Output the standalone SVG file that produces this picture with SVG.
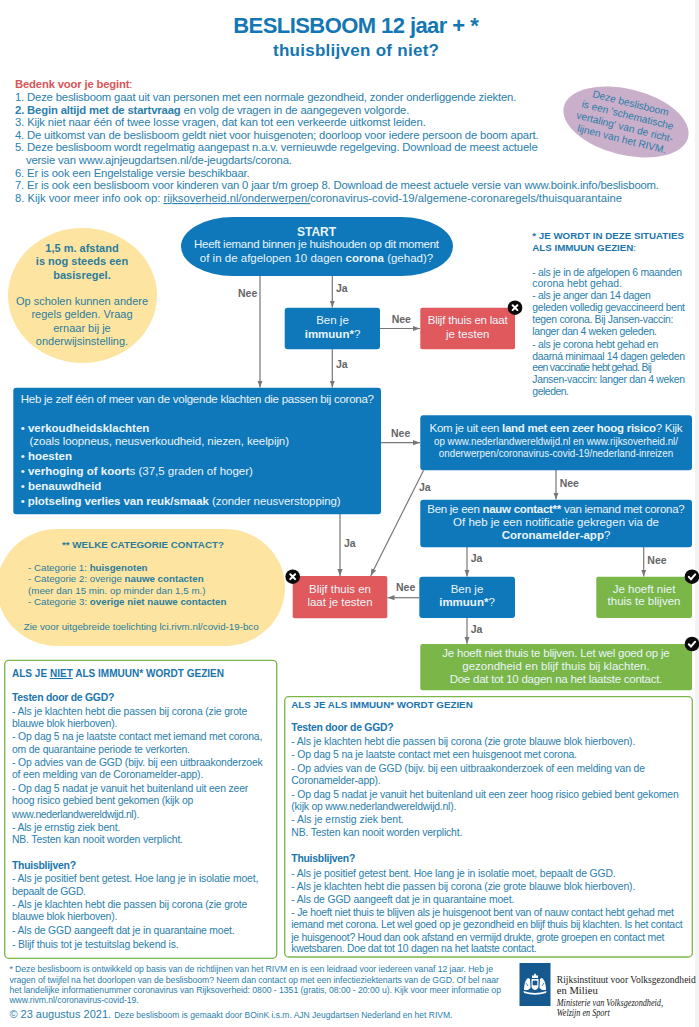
<svg xmlns="http://www.w3.org/2000/svg" width="699" height="1027" viewBox="0 0 699 1027">
<style>
text{font-family:"Liberation Sans",Arial,sans-serif;}
.b{font-weight:bold}
.t{fill:#2a80ad;font-size:11.3px}
.w{fill:#eaf5fb;font-size:11.5px}
.w2{fill:#eaf5fb;font-size:10.2px}
.m{text-anchor:middle}
.lb{fill:#666;font-size:10.5px;font-weight:bold}
.c{fill:none;stroke:#777;stroke-width:1.2;marker-end:url(#a)}
.blue{fill:#0f78ba}
.green{fill:#7ab648}
.red{fill:#e0595c}
.yel{fill:#fde5a1}
.panel{fill:#fff;stroke:#7ab648;stroke-width:1.3}
.s{font-size:10.4px;fill:#2a80ad}
.sh{font-size:9.8px;fill:#1a75ad}
.y{fill:#2b7c9c;font-size:9.9px}
.y2{fill:#2b7c9c;font-size:11px}
.f{font-size:8.7px;fill:#2a80ad}
.r{font-family:"Liberation Serif",serif;fill:#222;font-size:10.6px}
.h{fill:#1a75ad}
.badge{fill:#0a0a0a}
.xm{stroke:#fff;stroke-width:2;fill:none;stroke-linecap:round}
</style>
<defs>
<marker id="a" markerUnits="userSpaceOnUse" markerWidth="8" markerHeight="8" refX="7" refY="4" orient="auto"><path d="M0,1.4 L7,4 L0,6.6 Z" fill="#777"/></marker>
</defs>
<rect width="699" height="1027" fill="#fff"/>
<rect x="695" y="0" width="4" height="1027" fill="#f3f3f3"/>
<g id="titel">
<text x="356" y="33" class="m b" fill="#1476b3" font-size="22px" textLength="245.4">BESLISBOOM 12 jaar + *</text>
<text x="356" y="55.7" class="m b" fill="#1476b3" font-size="17px" textLength="166">thuisblijven of niet?</text>
</g>
<g id="intro">
<text x="15" y="88" font-size="11.3px" fill="#d9555a" textLength="117.5"><tspan class="b">Bedenk voor je begint</tspan>:</text>
<text x="15" y="101" class="t" textLength="501.3">1. Deze beslisboom gaat uit van personen met een normale gezondheid, zonder onderliggende ziekten.</text>
<text x="15" y="113.5" class="t" textLength="394.3"><tspan class="b">2. Begin altijd met de startvraag</tspan> en volg de vragen in de aangegeven volgorde.</text>
<text x="15" y="126" class="t" textLength="410.8">3. Kijk niet naar één of twee losse vragen, dat kan tot een verkeerde uitkomst leiden.</text>
<text x="15" y="138.7" class="t" textLength="523.6">4. De uitkomst van de beslisboom geldt niet voor huisgenoten; doorloop voor iedere persoon de boom apart.</text>
<text x="15" y="151.2" class="t" textLength="522.7">5. Deze beslisboom wordt regelmatig aangepast n.a.v. vernieuwde regelgeving. Download de meest actuele</text>
<text x="25.9" y="164" class="t" textLength="266.1">versie van www.ajnjeugdartsen.nl/de-jeugdarts/corona.</text>
<text x="15" y="176.7" class="t" textLength="234.7">6. Er is ook een Engelstalige versie beschikbaar.</text>
<text x="15" y="189.2" class="t" textLength="644">7. Er is ook een beslisboom voor kinderen van 0 jaar t/m groep 8. Download de meest actuele versie van www.boink.info/beslisboom.</text>
<text x="15" y="202" class="t" textLength="607">8. Kijk voor meer info ook op: <tspan text-decoration="underline">rijksoverheid.nl/onderwerpen/</tspan>coronavirus-covid-19/algemene-coronaregels/thuisquarantaine</text>
</g>
<g id="noot-ellips">
<ellipse cx="626" cy="122" rx="64" ry="33" fill="#c9afc9" transform="rotate(14 626 122)"/>
<g transform="rotate(14 626 122)" fill="#2a7dab" font-size="10.2px" text-anchor="middle">
<text x="626" y="106">Deze beslisboom</text>
<text x="626" y="118.3">is een 'schematische</text>
<text x="626" y="130.6">vertaling' van de richt-</text>
<text x="626" y="143">lijnen van het RIVM.</text>
</g>
</g>
<g id="connectors">
<line class="c" x1="260" y1="276" x2="260" y2="387.5"/>
<line class="c" x1="332.3" y1="276" x2="332.3" y2="307.5"/>
<line class="c" x1="332.3" y1="349" x2="332.3" y2="387.5"/>
<line class="c" x1="380" y1="328.5" x2="420" y2="328.5"/>
<line class="c" x1="381" y1="442.7" x2="420" y2="442.7"/>
<line class="c" x1="556" y1="470" x2="556" y2="499.5"/>
<line class="c" x1="423.5" y1="470.5" x2="370.7" y2="575.7"/>
<line class="c" x1="340" y1="514" x2="340" y2="576"/>
<line class="c" x1="467" y1="547" x2="467" y2="576.5"/>
<line class="c" x1="643.7" y1="547" x2="643.7" y2="576.5"/>
<line class="c" x1="419" y1="597.7" x2="387.5" y2="597.7"/>
<line class="c" x1="467" y1="618" x2="467" y2="643.7"/>
<text class="lb" x="238" y="297">Nee</text>
<text class="lb" x="336" y="291.7">Ja</text>
<text class="lb" x="336" y="368.3">Ja</text>
<text class="lb" x="391.7" y="322.7">Nee</text>
<text class="lb" x="391" y="437">Nee</text>
<text class="lb" x="559.7" y="487">Nee</text>
<text class="lb" x="419" y="490.7">Ja</text>
<text class="lb" x="344" y="546.7">Ja</text>
<text class="lb" x="470.7" y="562">Ja</text>
<text class="lb" x="647.3" y="563.7">Nee</text>
<text class="lb" x="396" y="591.3">Nee</text>
<text class="lb" x="470.7" y="633">Ja</text>
</g>
<g id="afstand">
<ellipse class="yel" cx="82.5" cy="295.5" rx="74.5" ry="67.5"/>
<text class="y2 b m" x="82" y="252">1,5 m. afstand</text>
<text class="y2 b m" x="82" y="265.3">is nog steeds een</text>
<text class="y2 b m" x="82" y="278.5">basisregel.</text>
<text class="y2 m" x="82" y="305">Op scholen kunnen andere</text>
<text class="y2 m" x="82" y="318.2">regels gelden. Vraag</text>
<text class="y2 m" x="82" y="331.5">ernaar bij je</text>
<text class="y2 m" x="82" y="344.5">onderwijsinstelling.</text>
</g>
<g id="start">
<rect class="blue" x="181" y="217" width="272" height="59" rx="52" ry="29.5"/>
<text class="w b m" x="316.5" y="235.5" style="font-size:12px">START</text>
<text class="w m" x="316.5" y="248" textLength="245">Heeft iemand binnen je huishouden op dit moment</text>
<text class="w m" x="316.5" y="261.7">of in de afgelopen 10 dagen <tspan class="b">corona</tspan> (gehad)?</text>
</g>
<g id="immuun-1">
<rect class="blue" x="284.7" y="307.7" width="95.3" height="41.6" rx="3"/>
<text class="w m" x="332.5" y="324.3">Ben je</text>
<text class="w m" x="332.5" y="337.5"><tspan class="b">immuun*</tspan>?</text>
</g>
<g id="blijf-thuis-1">
<rect class="red" x="420.3" y="307.7" width="94.7" height="41.6" rx="2"/>
<text class="w m" x="467.7" y="324.3" textLength="80">Blijf thuis en laat</text>
<text class="w m" x="467.7" y="337.5">je testen</text>
<circle class="badge" cx="515" cy="307.7" r="7.3"/>
<path class="xm" d="M512.6,305.3 L517.4,310.1 M517.4,305.3 L512.6,310.1"/>
</g>
<g id="klachten">
<rect class="blue" x="13.3" y="387.7" width="367.7" height="126.6" rx="3"/>
<text class="w" x="20.7" y="403.3" textLength="353.3">Heb je zelf één of meer van de volgende klachten die passen bij corona?</text>
<text class="w" x="20.7" y="431.7">•  <tspan class="b">verkoudheidsklachten</tspan></text>
<text class="w" x="29.5" y="445" textLength="259.5">(zoals loopneus, neusverkoudheid, niezen, keelpijn)</text>
<text class="w" x="20.7" y="460">• <tspan class="b">hoesten</tspan></text>
<text class="w" x="20.7" y="475">•  <tspan class="b">verhoging of koort</tspan>s (37,5 graden of hoger)</text>
<text class="w" x="20.7" y="490">•  <tspan class="b">benauwdheid</tspan></text>
<text class="w" x="20.7" y="505" textLength="320">•  <tspan class="b">plotseling verlies van reuk/smaak</tspan> (zonder neusverstopping)</text>
</g>
<g id="land">
<rect class="blue" x="420.3" y="415.3" width="271.7" height="55" rx="3"/>
<text class="w m" x="556" y="432" textLength="253">Kom je uit een <tspan class="b">land met een zeer hoog risico</tspan>? Kijk</text>
<text class="w2 m" x="556" y="444.7" textLength="244" lengthAdjust="spacingAndGlyphs">op www.nederlandwereldwijd.nl en www.rijksoverheid.nl/</text>
<text class="w2 m" x="556" y="457.3" textLength="234.3" lengthAdjust="spacingAndGlyphs">onderwerpen/coronavirus-covid-19/nederland-inreizen</text>
</g>
<g id="nauw-contact">
<rect class="blue" x="420.3" y="499.7" width="271.7" height="47.6" rx="3"/>
<text class="w m" x="556" y="512.7" textLength="257.4">Ben je een <tspan class="b">nauw contact**</tspan> van iemand met corona?</text>
<text class="w m" x="556" y="525.7">Of heb je een notificatie gekregen via de</text>
<text class="w m" x="556" y="539"><tspan class="b">Coronamelder-app</tspan>?</text>
</g>
<g id="blijf-thuis-2">
<rect class="red" x="292.7" y="576" width="94.6" height="42.3" rx="2"/>
<text class="w m" x="340" y="593">Blijf thuis en</text>
<text class="w m" x="340" y="606.3">laat je testen</text>
<circle class="badge" cx="292.7" cy="576.7" r="7.3"/>
<path class="xm" d="M290.3,574.3 L295.1,579.1 M295.1,574.3 L290.3,579.1"/>
</g>
<g id="immuun-2">
<rect class="blue" x="419.3" y="576.7" width="95.7" height="41.3" rx="3"/>
<text class="w m" x="467" y="593">Ben je</text>
<text class="w m" x="467" y="606.3"><tspan class="b">immuun*</tspan>?</text>
</g>
<g id="niet-thuis-1">
<rect class="green" x="596.3" y="576.7" width="95.7" height="41.3" rx="2"/>
<text class="w m" x="644" y="592.7">Je hoeft niet</text>
<text class="w m" x="644" y="605.3">thuis te blijven</text>
<circle class="badge" cx="692" cy="576.7" r="7.3"/>
<path class="xm" d="M688.8,576.9 L691,579.2 L695.2,574.4"/>
</g>
<g id="niet-thuis-2">
<rect class="green" x="420.3" y="644" width="271.7" height="46.3" rx="2"/>
<text class="w m" x="556" y="657" textLength="227.3">Je hoeft niet thuis te blijven. Let wel goed op je</text>
<text class="w m" x="556" y="670.3">gezondheid en blijf thuis bij klachten.</text>
<text class="w m" x="556" y="683.3" textLength="212.7">Doe dat tot 10 dagen na het laatste contact.</text>
<circle class="badge" cx="692" cy="644" r="7.3"/>
<path class="xm" d="M688.8,644.2 L691,646.5 L695.2,641.7"/>
</g>
<g id="categorie">
<rect class="yel" x="-3" y="529" width="288" height="117" rx="60" ry="58.5"/>
<text class="y b m" x="143" y="548" textLength="162" lengthAdjust="spacingAndGlyphs">** WELKE CATEGORIE CONTACT?</text>
<text class="y" x="28" y="571" textLength="119.5" lengthAdjust="spacingAndGlyphs">- Categorie 1: <tspan class="b">huisgenoten</tspan></text>
<text class="y" x="28" y="582.3" textLength="175.7" lengthAdjust="spacingAndGlyphs">- Categorie 2: overige <tspan class="b">nauwe contacten</tspan></text>
<text class="y" x="28" y="593.7" textLength="177.5" lengthAdjust="spacingAndGlyphs">(meer dan 15 min. op minder dan 1,5 m.)</text>
<text class="y" x="28" y="605" textLength="198.5" lengthAdjust="spacingAndGlyphs">- Categorie 3: <tspan class="b">overige niet nauwe contacten</tspan></text>
<text class="y" x="23.7" y="630" textLength="235" lengthAdjust="spacingAndGlyphs">Zie voor uitgebreide toelichting lci.rivm.nl/covid-19-bco</text>
</g>
<g id="immuun-uitleg">
<text class="sh b" x="532.3" y="238.7" textLength="151.7" lengthAdjust="spacingAndGlyphs">* JE WORDT IN DEZE SITUATIES</text>
<text class="sh" x="532.3" y="250.7" textLength="103.7" lengthAdjust="spacingAndGlyphs"><tspan class="b">ALS IMMUUN GEZIEN</tspan>:</text>
<text class="s" x="532.3" y="275.7" textLength="149.7">- als je in de afgelopen 6 maanden</text>
<text class="s" x="532.3" y="287.3">corona hebt gehad.</text>
<text class="s" x="532.3" y="299.3" textLength="118.4">- als je anger dan 14 dagen</text>
<text class="s" x="532.3" y="311.3" textLength="152.7">geleden volledig gevaccineerd bent</text>
<text class="s" x="532.3" y="323.3" textLength="141">tegen corona. Bij Jansen-vaccin:</text>
<text class="s" x="532.3" y="335" textLength="124.7">langer dan 4 weken geleden.</text>
<text class="s" x="532.3" y="347.7" textLength="126">- als je corona hebt gehad en</text>
<text class="s" x="532.3" y="359.7" textLength="152.7">daarná minimaal 14 dagen geleden</text>
<text class="s" x="532.3" y="371.3" textLength="119.4">een vaccinatie hebt gehad. Bij</text>
<text class="s" x="532.3" y="383" textLength="152.7">Jansen-vaccin: langer dan 4 weken</text>
<text class="s" x="532.3" y="395" textLength="36.7">geleden.</text>
</g>
<g id="niet-immuun">
<rect class="panel" x="4.7" y="660.3" width="272" height="298" rx="4"/>
<text class="s h b" x="12" y="677" textLength="212" lengthAdjust="spacingAndGlyphs">ALS JE <tspan text-decoration="underline">NIET</tspan> ALS IMMUUN* WORDT GEZIEN</text>
<text class="s h b" x="12" y="701" textLength="102.3">Testen door de GGD?</text>
<text class="s" x="12" y="715" textLength="235.3">- Als je klachten hebt die passen bij corona (zie grote</text>
<text class="s" x="12" y="727" textLength="105.3">blauwe blok hierboven).</text>
<text class="s" x="12" y="740.3" textLength="250.3">- Op dag 5 na je laatste contact met iemand met corona,</text>
<text class="s" x="12" y="752.7" textLength="178">om de quarantaine periode te verkorten.</text>
<text class="s" x="12" y="766" textLength="250.7">- Op advies van de GGD (bijv. bij een uitbraakonderzoek</text>
<text class="s" x="12" y="778.3" textLength="191.3">of een melding van de Coronamelder-app).</text>
<text class="s" x="12" y="792" textLength="236.3">- Op dag 5 nadat je vanuit het buitenland uit een zeer</text>
<text class="s" x="12" y="804.3" textLength="181.3">hoog risico gebied bent gekomen (kijk op</text>
<text class="s" x="12" y="817.7" textLength="127.3">www.nederlandwereldwijd.nl).</text>
<text class="s" x="12" y="831" textLength="108.3">- Als je ernstig ziek bent.</text>
<text class="s" x="12" y="843" textLength="171">NB. Testen kan nooit worden verplicht.</text>
<text class="s h b" x="12" y="868.7" textLength="64">Thuisblijven?</text>
<text class="s" x="12" y="882.3" textLength="246.3">- Als je positief bent getest. Hoe lang je in isolatie moet,</text>
<text class="s" x="12" y="894.7" textLength="74">bepaalt de GGD.</text>
<text class="s" x="12" y="908.3" textLength="235.3">- Als je klachten hebt die passen bij corona (zie grote</text>
<text class="s" x="12" y="920.3" textLength="105.3">blauwe blok hierboven).</text>
<text class="s" x="12" y="934.3" textLength="222.7">- Als de GGD aangeeft dat je in quarantaine moet.</text>
<text class="s" x="12" y="948" textLength="166.7">- Blijf thuis tot je testuitslag bekend is.</text>
</g>
<g id="wel-immuun">
<rect class="panel" x="284.7" y="696.7" width="407.6" height="260.3" rx="4"/>
<text class="sh b" x="291.3" y="707.7" textLength="181.4" lengthAdjust="spacingAndGlyphs">ALS JE ALS IMMUUN* WORDT GEZIEN</text>
<text class="s h b" x="291.3" y="731" textLength="102.4">Testen door de GGD?</text>
<text class="s" x="291.3" y="745" textLength="344">- Als je klachten hebt die passen bij corona (zie grote blauwe blok hierboven).</text>
<text class="s" x="291.3" y="758" textLength="285.7">- Op dag 5 na je laatste contact met een huisgenoot met corona.</text>
<text class="s" x="291.3" y="772" textLength="353.7">- Op advies van de GGD (bijv. bij een uitbraakonderzoek of een melding van de</text>
<text class="s" x="291.3" y="784.3" textLength="89.4">Coronamelder-app).</text>
<text class="s" x="291.3" y="798" textLength="387.4">- Op dag 5 nadat je vanuit het buitenland uit een zeer hoog risico gebied bent gekomen</text>
<text class="s" x="291.3" y="810.3" textLength="165">(kijk op www.nederlandwereldwijd.nl).</text>
<text class="s" x="291.3" y="823.3">- Als je ernstig ziek bent.</text>
<text class="s" x="291.3" y="835.7" textLength="171">NB. Testen kan nooit worden verplicht.</text>
<text class="s h b" x="291.3" y="862.3" textLength="64">Thuisblijven?</text>
<text class="s" x="291.3" y="876.7" textLength="324.4">- Als je positief getest bent. Hoe lang je in isolatie moet, bepaalt de GGD.</text>
<text class="s" x="291.3" y="890" textLength="344">- Als je klachten hebt die passen bij corona (zie grote blauwe blok hierboven).</text>
<text class="s" x="291.3" y="903.3" textLength="223">- Als de GGD aangeeft dat je in quarantaine moet.</text>
<text class="s" x="291.3" y="916.3" textLength="382.7">- Je hoeft niet thuis te blijven als je huisgenoot bent van of nauw contact hebt gehad met</text>
<text class="s" x="291.3" y="928" textLength="391.4">iemand met corona. Let wel goed op je gezondheid en blijf thuis bij klachten. Is het contact</text>
<text class="s" x="291.3" y="940.7" textLength="373">je huisgenoot? Houd dan ook afstand en vermijd drukte, grote groepen en contact met</text>
<text class="s" x="291.3" y="952.3" textLength="245.4">kwetsbaren. Doe dat tot 10 dagen na het laatste contact.</text>
</g>
<g id="voetnoot">
<text class="f" x="9.4" y="972.3" textLength="483.6">* Deze beslisboom is ontwikkeld op basis van de richtlijnen van het RIVM en is een leidraad voor iedereen vanaf 12 jaar. Heb je</text>
<text class="f" x="9.4" y="983" textLength="489.6">vragen of twijfel na het doorlopen van de beslisboom? Neem dan contact op met een infectieziektenarts van de GGD. Of bel naar</text>
<text class="f" x="9.4" y="993" textLength="491.6">het landelijke informatienummer coronavirus van Rijksoverheid: 0800 - 1351 (gratis, 08:00 - 20:00 u). Kijk voor meer informatie op</text>
<text class="f" x="9.4" y="1003" textLength="129.3">www.rivm.nl/coronavirus-covid-19.</text>
<text x="9.4" y="1017.7" fill="#2a80ad" font-size="11px">© 23 augustus 2021. <tspan font-size="8.5px">Deze beslisboom is gemaakt door BOinK i.s.m. AJN Jeugdartsen Nederland en het RIVM.</tspan></text>
</g>
<g id="logo">
<rect x="519.5" y="963" width="31" height="43" fill="#15598f"/>
<g fill="#fff">
<path d="M532,978 h6 v-3 l-1.2,1 -1,-1.8 -.8,-1 -.8,1 -1,1.8 -1.2,-1 z"/>
<path d="M531.5,979 h7 v7 q0,3 -3.5,4 q-3.5,-1 -3.5,-4 z"/>
<path d="M524,990 C524,986 525,980 528,978 L530,979 L530.5,988 L528,990 Z"/>
<path d="M546,990 C546,986 545,980 542,978 L540,979 L539.5,988 L542,990 Z"/>
<path d="M523.5,991 Q535,995 546.5,991 L546,993 Q535,996.5 524,993 Z"/>
</g>
<path d="M533,981 h4 v4 h-4 z M526,983 l2,3 M544,983 l-2,3" fill="#15598f" stroke="#15598f" stroke-width=".7"/>
<text class="r" x="556.8" y="983.3" textLength="139" lengthAdjust="spacingAndGlyphs">Rijksinstituut voor Volksgezondheid</text>
<text class="r" x="556.8" y="994.3">en Milieu</text>
<text class="r" x="556.8" y="1005.7" font-style="italic" textLength="106.2" lengthAdjust="spacingAndGlyphs">Ministerie van Volksgezondheid,</text>
<text class="r" x="556.8" y="1016" font-style="italic" textLength="53" lengthAdjust="spacingAndGlyphs">Welzijn en Sport</text>
</g>
</svg>
